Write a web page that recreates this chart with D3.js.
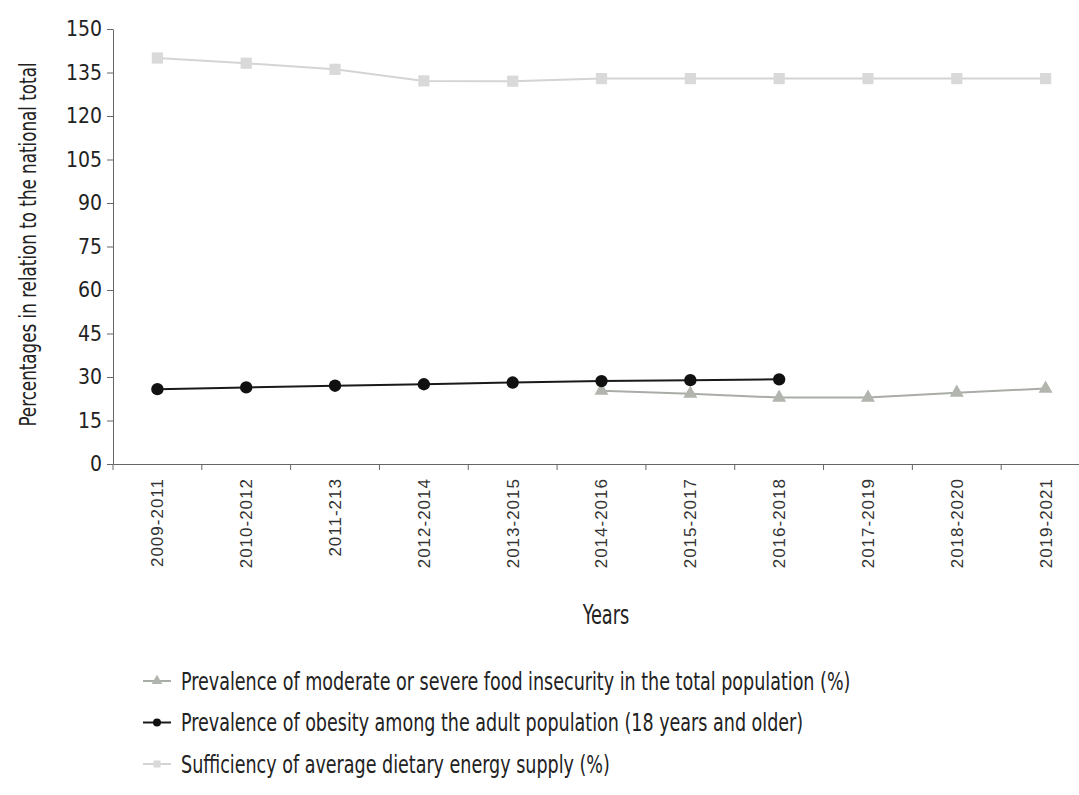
<!DOCTYPE html>
<html lang="en">
<head>
  <meta charset="UTF-8">
  <title>Food security indicators</title>
  <script src="https://d3js.org/d3.v7.min.js"></script>
  <style>
    body { margin: 0; background: #fff; }
    svg { display: block; }
    .cond { font-family: "Liberation Sans Narrow", "DejaVu Sans Condensed", "Roboto Condensed", sans-serif; }
  </style>
</head>
<body>
  <div id="chart"></div>
  <script>
    // data
    var periods = ["2009-2011", "2010-2012", "2011-213", "2012-2014", "2013-2015", "2014-2016",
                   "2015-2017", "2016-2018", "2017-2019", "2018-2020", "2019-2021"];
    var insecurity = [null, null, null, null, null, 25.3, 24.2, 22.9, 22.9, 24.6, 26.0];
    var obesity = [25.8, 26.4, 27.0, 27.5, 28.1, 28.6, 28.9, 29.2, null, null, null];
    var energy = [140, 138.2, 136.1, 132.1, 132.0, 132.9, 132.9, 132.9, 132.9, 132.9, 132.9];
    var yTicks = [0, 15, 30, 45, 60, 75, 90, 105, 120, 135, 150];
    var legendLabels = [
      "Prevalence of moderate or severe food insecurity in the total population (%)",
      "Prevalence of obesity among the adult population (18 years and older)",
      "Sufficiency of average dietary energy supply (%)"
    ];

    var width = 1079, height = 795;
    var svg = d3.select("#chart").append("svg")
      .attr("width", width)
      .attr("height", height);

    var x = d3.scaleBand().domain(periods).range([113, 1090]);
    var y = d3.scaleLinear().domain([0, 150]).range([464, 29]);
    var cx = function (i) { return x(periods[i]) + x.bandwidth() / 2; };

    // the source font is tall and very narrow: squeeze a condensed face sideways
    function narrowText(parent, px, py, sx, size, txt, anchor) {
      var g = parent.append("g")
        .attr("transform", "translate(" + px + "," + py + ") scale(" + sx + ",1)");
      return g.append("text")
        .attr("class", "cond")
        .attr("font-size", size)
        .attr("fill", "#222")
        .attr("text-anchor", anchor || "start")
        .text(txt);
    }

    // y axis
    var gy = svg.append("g")
      .attr("transform", "translate(113,0)")
      .call(d3.axisLeft(y).tickValues(yTicks).tickSize(6).tickPadding(5).tickSizeOuter(0));
    gy.select(".domain").attr("stroke", "#666");
    gy.selectAll(".tick line").attr("stroke", "#666");
    gy.selectAll(".tick text").attr("class", "cond").attr("font-size", 21).attr("fill", "#222");

    // x axis
    var gx = svg.append("g")
      .attr("transform", "translate(0,464)")
      .call(d3.axisBottom(x).tickSize(0).tickSizeOuter(0));
    gx.select(".domain").attr("stroke", "#666");
    gx.selectAll(".tick text")
      .attr("font-family", "Liberation Sans, Arial, sans-serif")
      .attr("font-size", 17)
      .attr("letter-spacing", 1)
      .attr("fill", "#333")
      .attr("text-anchor", "end")
      .attr("transform", "rotate(-90)")
      .attr("x", -14)
      .attr("y", 0)
      .attr("dy", "0.35em");
    // boundary ticks between periods
    gx.selectAll(".bound")
      .data(periods)
      .enter().append("line")
      .attr("class", "bound")
      .attr("x1", d => x(d)).attr("x2", d => x(d))
      .attr("y1", 0).attr("y2", 6)
      .attr("stroke", "#666");

    // axis titles
    var yt = svg.append("g").attr("transform", "translate(36," + (y(75) - 2) + ") rotate(-90)");
    narrowText(yt, 0, 0, 0.81, 23, "Percentages in relation to the national total", "middle");
    narrowText(svg, 606, 624, 0.76, 26, "Years", "middle");

    var series = [
      { values: energy, line: "#d4d4d4", fill: "#d9d9d9", shape: d3.symbolSquare, size: 125 },
      { values: insecurity, line: "#a9ada7", fill: "#b1b5ae", shape: d3.symbolTriangle, size: 85 },
      { values: obesity, line: "#1a1a1a", fill: "#111", shape: d3.symbolCircle, size: 120 }
    ];

    var line = d3.line()
      .defined(d => d.v != null)
      .x(d => cx(d.i))
      .y(d => y(d.v));

    series.forEach(function (s) {
      var pts = s.values.map((v, i) => ({ v: v, i: i }));
      svg.append("path")
        .attr("d", line(pts))
        .attr("fill", "none")
        .attr("stroke", s.line)
        .attr("stroke-width", 2);
      svg.append("g").selectAll("path")
        .data(pts.filter(d => d.v != null))
        .enter().append("path")
        .attr("d", d3.symbol().type(s.shape).size(s.size))
        .attr("transform", d => "translate(" + cx(d.i) + "," + y(d.v) + ")")
        .attr("fill", s.fill);
    });

    // legend
    var legendSeries = [series[1], series[2], series[0]];
    legendLabels.forEach(function (label, i) {
      var s = legendSeries[i];
      var g = svg.append("g").attr("transform", "translate(143," + (681 + i * 41.5) + ")");
      g.append("line")
        .attr("x1", 0).attr("x2", 28)
        .attr("stroke", s.line)
        .attr("stroke-width", 2);
      g.append("path")
        .attr("transform", "translate(14,0)")
        .attr("d", d3.symbol().type(s.shape).size(50)())
        .attr("fill", s.fill);
      narrowText(g, 38, 0, 0.78, 25, label).attr("dy", "0.35em");
    });
  </script>
</body>
</html>
